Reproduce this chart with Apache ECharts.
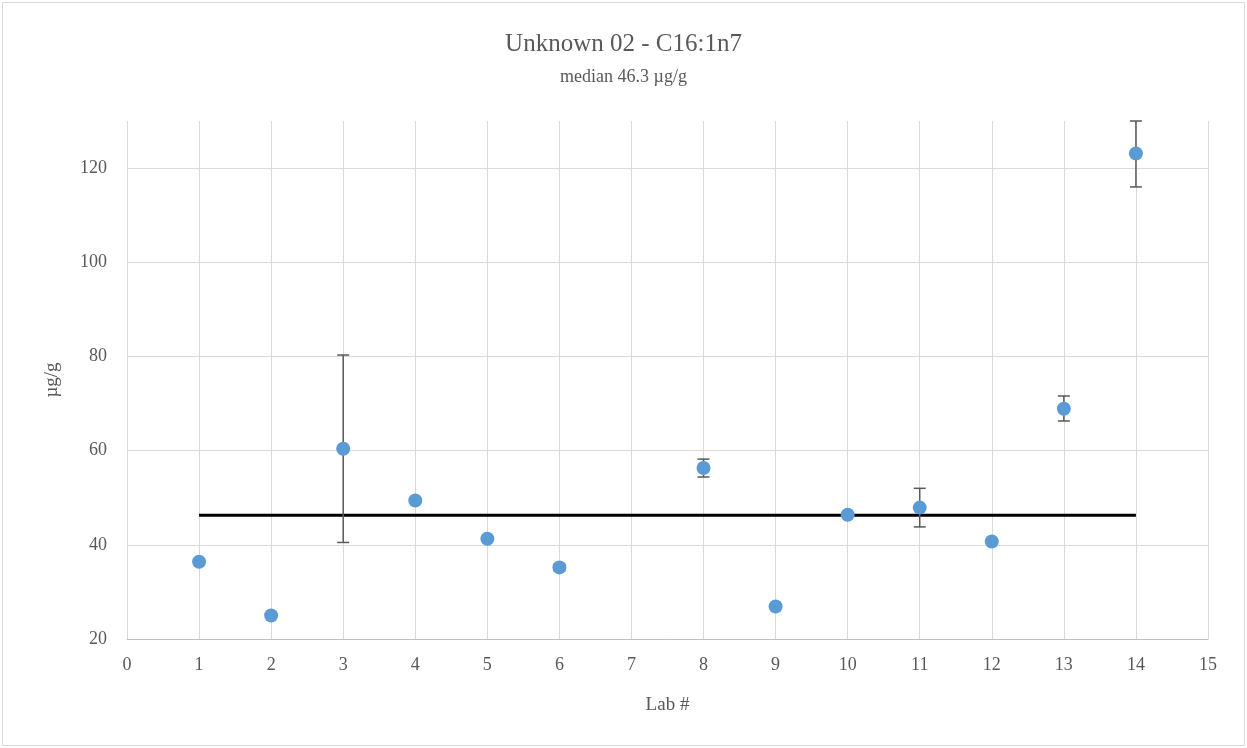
<!DOCTYPE html>
<html>
<head>
<meta charset="utf-8">
<script src="https://cdn.jsdelivr.net/npm/echarts@6/dist/echarts.min.js"></script>
<style>
  html, body { margin: 0; padding: 0; background: #fff; }
  #chart { width: 1247px; height: 748px; }
</style>
</head>
<body>
<div id="chart"></div>
<script>
const labs = [1, 2, 3, 4, 5, 6, 8, 9, 10, 11, 12, 13, 14];
const values = [36.4, 25.0, 60.4, 49.4, 41.3, 35.2, 56.3, 26.9, 46.4, 47.9, 40.7, 68.9, 123.1];
// error bar ends (low / high), null where the lab reported none
const errLow = [null, null, 40.5, null, null, 34.5, 54.4, null, null, 43.8, null, 66.3, 116.0];
const errHigh = [null, null, 80.3, null, null, 35.9, 58.2, null, null, 52.0, null, 71.6, 130.0];
const median = 46.3;
const medianRange = [1, 14];
const yTicks = [20, 40, 60, 80, 100, 120];

const font = 'Liberation Serif';
const textGrey = '#595959';

const chartDom = document.getElementById('chart');
const myChart = echarts.init(chartDom);

const points = labs.map((lab, i) => [lab, values[i]]);
const errData = [];
labs.forEach((lab, i) => {
    if (errLow[i] != null) errData.push([lab, errLow[i], errHigh[i]]);
});

const option = {
    backgroundColor: '#fff',
    animation: false,
    title: {
        text: 'Unknown 02 - C16:1n7',
        subtext: 'median 46.3 µg/g',
        left: 'center',
        top: 27,
        itemGap: 11,
        textStyle: { fontFamily: font, fontSize: 25, fontWeight: 'normal', color: textGrey },
        subtextStyle: { fontFamily: font, fontSize: 18, color: textGrey }
    },
    graphic: [{
        type: 'rect',
        shape: { x: 2.5, y: 2.5, width: 1242, height: 743 },
        style: { fill: 'none', stroke: '#d9d9d9', lineWidth: 1 },
        silent: true
    }],
    grid: { left: 127, right: 39, top: 121, bottom: 109 },
    xAxis: {
        type: 'value',
        min: 0,
        max: 15,
        interval: 1,
        name: 'Lab #',
        nameLocation: 'middle',
        nameGap: 57,
        nameTextStyle: { fontFamily: font, fontSize: 19, color: textGrey },
        axisLine: { lineStyle: { color: '#bfbfbf', width: 1 } },
        axisTick: { show: false },
        axisLabel: { fontFamily: font, fontSize: 18, color: textGrey, margin: 17 },
        splitLine: { show: true, lineStyle: { color: '#d9d9d9', width: 1 } }
    },
    yAxis: {
        type: 'value',
        min: 20,
        max: 130,
        interval: 20,
        name: 'µg/g',
        nameLocation: 'middle',
        nameGap: 65,
        nameTextStyle: { fontFamily: font, fontSize: 19, color: textGrey },
        axisLine: { show: false },
        axisTick: { show: false, customValues: yTicks },
        axisLabel: { fontFamily: font, fontSize: 18, color: textGrey, margin: 20, customValues: yTicks },
        splitLine: { show: true, lineStyle: { color: '#d9d9d9', width: 1 } }
    },
    series: [
        {
            type: 'line',
            data: [[medianRange[0], median], [medianRange[1], median]],
            symbol: 'none',
            lineStyle: { color: '#000', width: 3 },
            z: 2
        },
        {
            type: 'custom',
            data: errData,
            renderItem: function (params, api) {
                const x = api.value(0);
                const lo = api.coord([x, api.value(1)]);
                const hi = api.coord([x, api.value(2)]);
                const half = 6;
                const style = { stroke: '#595959', lineWidth: 1.5 };
                return {
                    type: 'group',
                    children: [
                        { type: 'line', shape: { x1: lo[0], y1: lo[1], x2: hi[0], y2: hi[1] }, style: style },
                        { type: 'line', shape: { x1: hi[0] - half, y1: hi[1], x2: hi[0] + half, y2: hi[1] }, style: style },
                        { type: 'line', shape: { x1: lo[0] - half, y1: lo[1], x2: lo[0] + half, y2: lo[1] }, style: style }
                    ]
                };
            },
            z: 3
        },
        {
            type: 'scatter',
            data: points,
            symbol: 'circle',
            symbolSize: 14,
            itemStyle: { color: '#5b9bd5', opacity: 1 },
            z: 4
        }
    ]
};

myChart.setOption(option);
</script>
</body>
</html>
